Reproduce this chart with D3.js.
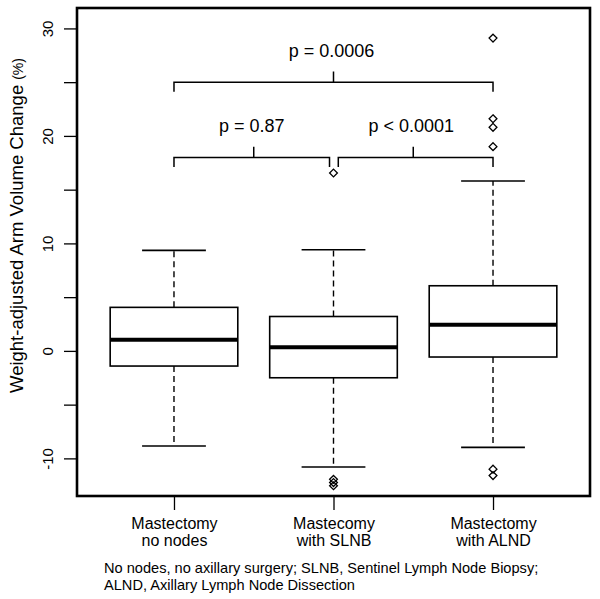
<!DOCTYPE html>
<html lang="en">
<head>
<meta charset="UTF-8">
<title>Weight-adjusted Arm Volume Change</title>
<script src="https://d3js.org/d3.v7.min.js"></script>
<style>
    body { margin: 0; background: #fff; }
    svg { display: block; font-family: "Liberation Sans", Arial, sans-serif; }
    .axis text { fill: #000; }
    .axis line { stroke: #000; stroke-width: 1.3; }
</style>
</head>
<body>
<svg id="chart" width="600" height="599"></svg>
<script>
    // --- dados ---
    const groupLine1 = ["Mastectomy", "Mastecomy", "Mastectomy"];
    const groupLine2 = ["no nodes", "with SLNB", "with ALND"];
    const whiskerLow  = [-8.85, -10.8, -8.98];
    const q1          = [-1.41, -2.5, -0.57];
    const median      = [1.04, 0.35, 2.44];
    const q3          = [4.05, 3.2, 6.06];
    const whiskerHigh = [9.35, 9.41, 15.8];
    const outliers = [
        [],
        [16.55, -11.95, -12.25, -12.55],
        [29.1, 21.6, 20.8, 19.0, -11.0, -11.6]
    ];
    const yTicks = [-10, -5, 0, 5, 10, 15, 20, 25, 30];
    const yTitle = "Weight-adjusted Arm Volume Change";
    const yUnit = "(%)";

    // comparações: grupo inicial, grupo final, nível da barra
    const brFrom  = [1, 2.03, 1];
    const brTo    = [1.975, 3, 3];
    const brLevel = [18.0, 18.0, 25.0];
    const brLabel = ["p = 0.87", "p < 0.0001", "p = 0.0006"];

    const footnote = [
        "No nodes, no axillary surgery; SLNB, Sentinel Lymph Node Biopsy;",
        "ALND, Axillary Lymph Node Dissection"
    ];

    // --- layout ---
    const plot = {left: 77, right: 590, top: 8, bottom: 496};
    const svg = d3.select("#chart");

    const x = d3.scaleLinear().domain([0.392, 3.608]).range([plot.left, plot.right]);
    const y = d3.scaleLinear().domain([-13.5, 31.9]).range([plot.bottom, plot.top]);
    const unit = x(1) - x(0);
    const boxHalf = 0.4 * unit;
    const capHalf = 0.2 * unit;

    // eixo Y
    const yAxis = svg.append("g")
        .attr("class", "axis")
        .attr("transform", `translate(${plot.left},0)`)
        .call(d3.axisLeft(y).tickValues(yTicks).tickSize(13).tickSizeOuter(0)
            .tickFormat(d => d % 10 === 0 ? d : ""));
    yAxis.select(".domain").remove();
    yAxis.selectAll(".tick text")
        .attr("font-size", 15)
        .attr("x", 0).attr("y", 0)
        .attr("dy", 0)
        .attr("text-anchor", "middle")
        .attr("transform", "translate(-24,0) rotate(-90)");

    // eixo X
    const xAxis = svg.append("g")
        .attr("class", "axis")
        .attr("transform", `translate(0,${plot.bottom})`)
        .call(d3.axisBottom(x).tickValues([1, 2, 3]).tickSize(14).tickSizeOuter(0).tickFormat(""));
    xAxis.select(".domain").remove();
    xAxis.selectAll(".tick text").remove();
    xAxis.selectAll(".tick").each(function(d, i) {
        const t = d3.select(this).append("text")
            .attr("text-anchor", "middle")
            .attr("font-size", 16)
            .attr("fill", "#000");
        t.append("tspan").attr("x", 0).attr("y", 33).text(groupLine1[i]);
        t.append("tspan").attr("x", 0).attr("y", 50).text(groupLine2[i]);
    });

    // boxplots
    const g = svg.append("g");
    [0, 1, 2].forEach(i => {
        const cx = x(i + 1);
        // bigodes tracejados
        g.append("line")
            .attr("x1", cx).attr("x2", cx)
            .attr("y1", y(q3[i])).attr("y2", y(whiskerHigh[i]))
            .attr("stroke", "#000").attr("stroke-width", 1.4).attr("stroke-dasharray", "6,4");
        g.append("line")
            .attr("x1", cx).attr("x2", cx)
            .attr("y1", y(q1[i])).attr("y2", y(whiskerLow[i]))
            .attr("stroke", "#000").attr("stroke-width", 1.4).attr("stroke-dasharray", "6,4");
        // caps
        [whiskerHigh[i], whiskerLow[i]].forEach(v => {
            g.append("line")
                .attr("x1", cx - capHalf).attr("x2", cx + capHalf)
                .attr("y1", y(v)).attr("y2", y(v))
                .attr("stroke", "#000").attr("stroke-width", 1.6);
        });
        // caixa
        g.append("rect")
            .attr("x", cx - boxHalf).attr("width", 2 * boxHalf)
            .attr("y", y(q3[i])).attr("height", y(q1[i]) - y(q3[i]))
            .attr("fill", "#fff").attr("stroke", "#000").attr("stroke-width", 1.6);
        // mediana
        g.append("line")
            .attr("x1", cx - boxHalf).attr("x2", cx + boxHalf)
            .attr("y1", y(median[i])).attr("y2", y(median[i]))
            .attr("stroke", "#000").attr("stroke-width", 4);
        // outliers (losangos)
        g.selectAll(null).data(outliers[i]).enter().append("path")
            .attr("d", d => `M${cx},${y(d) - 3.9}L${cx + 3.9},${y(d)}L${cx},${y(d) + 3.9}L${cx - 3.9},${y(d)}Z`)
            .attr("fill", "none").attr("stroke", "#000").attr("stroke-width", 1.3);
    });

    // colchetes de comparação
    const legDrop = 0.9, tickUp = 1.0, labelUp = 2.35;
    brLevel.forEach((lv, i) => {
        const x1 = x(brFrom[i]), x2 = x(brTo[i]);
        const mid = x((Math.round(brFrom[i]) + Math.round(brTo[i])) / 2);
        g.append("path")
            .attr("d", `M${x1},${y(lv - legDrop)}V${y(lv)}H${x2}V${y(lv - legDrop)}M${mid},${y(lv)}V${y(lv + tickUp)}`)
            .attr("fill", "none").attr("stroke", "#000").attr("stroke-width", 1.5);
        g.append("text")
            .attr("x", mid - 2).attr("y", y(lv + labelUp))
            .attr("text-anchor", "middle")
            .attr("font-size", 18)
            .attr("fill", "#000")
            .text(brLabel[i]);
    });

    // moldura
    svg.append("rect")
        .attr("x", plot.left).attr("y", plot.top)
        .attr("width", plot.right - plot.left).attr("height", plot.bottom - plot.top)
        .attr("fill", "none").attr("stroke", "#000").attr("stroke-width", 2.6);

    // título do eixo Y
    const yt = svg.append("text")
        .attr("transform", `translate(23,393) rotate(-90)`)
        .attr("fill", "#000");
    yt.append("tspan").attr("font-size", 18.5).text(yTitle);
    yt.append("tspan").attr("font-size", 14).attr("dx", 5).text(yUnit);

    // nota de rodapé
    svg.append("g").selectAll("text").data(footnote).enter().append("text")
        .attr("x", 104).attr("y", (d, i) => 573 + i * 17)
        .attr("font-size", 14.6)
        .attr("fill", "#000")
        .text(d => d);
</script>
</body>
</html>
